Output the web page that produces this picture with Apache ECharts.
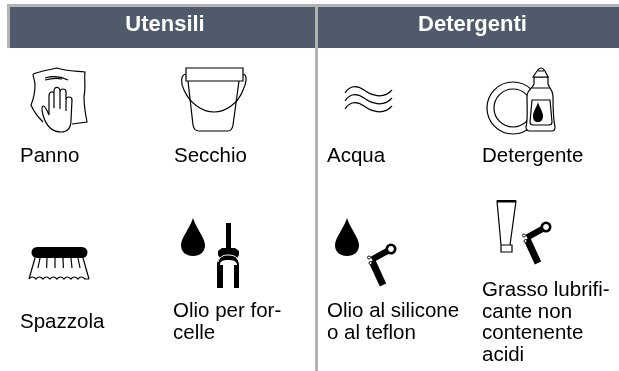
<!DOCTYPE html>
<html><head><meta charset="utf-8">
<style>html,body{margin:0;padding:0;background:#fff}#c{width:619px;height:371px}</style>
<script src="https://cdn.jsdelivr.net/npm/echarts@6/dist/echarts.min.js"></script>
</head><body><div id="c"></div>
<script>
const headers = ['Utensili', 'Detergenti'];
const itemLabels = [
  'Panno', 'Secchio', 'Acqua', 'Detergente',
  'Spazzola', 'Olio per for-\ncelle', 'Olio al silicone\no al teflon', 'Grasso lubrifi-\ncante non\ncontenente\nacidi'
];
const labelPos = [[20,146],[174,146],[327,146],[482,146],[20,312],[173,301],[327,301],[482,280]];
const headerCenters = [165, 472.5];

const GRAY='#b3b3b3', SLATE='#4f5b6b', INK='#000';
const LW = 1.2;
const icons = {
  cloth:'M33,74 C41,71 49,70 57,68 C65,71 75,71 85,72 C84,80 86,88 84,96 C84,105 85,112 87,122 L72,124 M43,122 C38,117 33,110 31,105 C34,98 35,92 35,85 C35,80 33,77 33,74 M45,78 C52,76 60,76 68,80 M45,80 C52,78 58,78 62,79',
  hand:'M49,115 C47,110 45,106 43,106 C41,107 42,111 43,115 C45,122 50,132 61,132 C68,132 71,127 71,120 L72,100 C72,96 66,96 66,100 L66,111 M66,100 L66,92 C66,88 60,88 60,92 L60,109 M60,92 C60,86 54,86 54,91 L54,108 M54,94 C54,91 49,91 49,96 L49,115',
  bucketRim:'M186,68 L243,68 L243,81 L186,81 Z',
  bucketBody:'M188,81 L193,125 Q194,131 199,131 L228,131 Q232,131 233,125 L239,81',
  bucketHandle:'M186,74 C180,75 181,84 184,90 C190,104 203,112 214,112 C225,112 238,104 243,90 C246,84 248,75 243,74',
  waves:'M345,93 C351,84 358,86 364,90 C371,95 383,100 392,90 M345,101 C351,92 358,94 364,98 C371,103 383,108 392,98 M345,109 C351,100 358,102 364,106 C371,111 383,116 392,106',
  bottle:'M534,84 C533,88 527,90 527,96 C527,110 528,120 526,127 Q526,131 530,131 L552,131 Q555,131 555,127 C553,118 553,105 553,96 C553,90 549,88 548,84 L548,77 L534,77 Z',
  bottleInner:'M532,100 L550,100 L552,122 Q552,125 549,125 L533,125 Q530,125 530,122 Z M532,88 L550,88',
  cap:'M533,77 L537,71 Q541,65 545,71 L548,77 Z M538,71 L544,71',
  drop:'M193,218 C190,228 181,238 181,245 C181,252 186,256 193,256 C200,256 205,252 205,245 C205,238 196,228 193,218 Z',
  drop2:'M347,218 C344,228 335,238 335,245 C335,252 340,256 347,256 C354,256 359,252 359,245 C359,238 350,228 347,218 Z',
  dropSmall:'M538,102 C537,107 533,111 533,116 C533,120 535,122 538,122 C541,122 543,120 543,116 C543,111 539,107 538,102 Z',
  brushBar:'M37,247 L82,247 A5.5,5.5 0 0 1 82,258 L37,258 A5.5,5.5 0 0 1 37,247 Z',
  brushBristles:'M35,258 L29,279 M83,258 L89,279 M29,279 Q32,275 36,279 Q39,275 43,279 Q46,275 50,279 Q53,275 57,279 Q60,275 64,279 Q67,275 71,279 Q74,275 78,279 Q81,275 85,279 L89,279 M40,258 L38,268 M47,258 L46.6,268 M55,258 L55,268 M63,258 L63.4,268 M71,258 L72,268 M78,258 L80,268',
  fork:'M226,223 L231,223 L231,248 L235,248 L239,251 L239,255 L237,258 L220,258 L218,255 L218,251 L222,248 L226,248 Z M217,265 L223,265 L223,288 L217,288 Z M234,265 L239,265 L239,288 L234,288 Z M217,265 C217,259 221,256 228,256 C235,256 239,259 239,265 L237,265 C237,261 233,260 228,260 C223,260 220,261 220,265 Z',
  forkArch:'M218,262 C219,257 223,255 228,255 C234,255 238,257 239,262',
  tube:'M497,201 L516,201 L510,245 L501,245 Z M501,245 L512,245 L512,252 L501,252 Z',
  tubeTop:'M497,200 L516,200 L516,202.5 L497,202.5 Z'
};
Object.keys(icons).forEach(k => echarts.graphic.registerShape('ic_'+k, echarts.graphic.extendPath(icons[k])));

const line = (k, extra) => ({type:'ic_'+k, style:Object.assign({fill:'none',stroke:INK,lineWidth:LW},extra||{})});
const solid = (k) => ({type:'ic_'+k, style:{fill:INK,stroke:'none'}});
const whiteFill = (k, lw) => ({type:'ic_'+k, style:{fill:'#fff',stroke:INK,lineWidth:lw||LW}});

function crank(x, y) {
  return {type:'group', x, y, children:[
    {type:'line', shape:{x1:0,y1:0,x2:-19,y2:10.5}, style:{stroke:INK,lineWidth:6}},
    {type:'line', shape:{x1:-19,y1:12,x2:-8,y2:36}, style:{stroke:INK,lineWidth:7}},
    {type:'circle', shape:{cx:0,cy:0,r:4.2}, style:{fill:'#fff',stroke:INK,lineWidth:2.6}},
    {type:'circle', shape:{cx:-22,cy:8.5,r:1.5}, style:{fill:'#fff',stroke:INK,lineWidth:.9}},
    {type:'circle', shape:{cx:-20.5,cy:14,r:1.5}, style:{fill:'#fff',stroke:INK,lineWidth:.9}}
  ]};
}

const elements = [
  {type:'rect', shape:{x:7,y:4,width:612,height:44}, style:{fill:SLATE}},
  {type:'rect', shape:{x:7,y:4,width:612,height:3}, style:{fill:GRAY}},
  {type:'rect', shape:{x:7,y:4,width:3,height:44}, style:{fill:GRAY}},
  {type:'rect', shape:{x:315,y:4,width:3,height:367}, style:{fill:GRAY}}
];
headers.forEach((h,i)=>elements.push({type:'text', x:headerCenters[i], y:14, style:{
  text:h, fill:'#fff', font:'bold 22px "Liberation Sans"', textAlign:'center', textVerticalAlign:'top'}}));
itemLabels.forEach((t,i)=>elements.push({type:'text', x:labelPos[i][0], y:labelPos[i][1], style:{
  text:t, fill:'#000', font:'20.5px "Liberation Sans"', lineHeight:21.5, textAlign:'left', textVerticalAlign:'top'}}));

elements.push(
  line('cloth'), whiteFill('hand'),
  line('bucketBody'), line('bucketHandle'), whiteFill('bucketRim'),
  line('waves'),
  {type:'circle', shape:{cx:513,cy:108,r:26}, style:{fill:'#fff',stroke:INK,lineWidth:LW}},
  {type:'circle', shape:{cx:513,cy:108,r:19}, style:{fill:'#fff',stroke:INK,lineWidth:LW}},
  whiteFill('bottle'), line('bottleInner'), whiteFill('cap'), solid('dropSmall'),
  solid('brushBar'), line('brushBristles'),
  solid('drop'), solid('fork'), {type:'ic_forkArch', style:{fill:'none',stroke:'#fff',lineWidth:1}},
  solid('drop2'), crank(391,249),
  whiteFill('tube'), solid('tubeTop'), crank(546,227)
);

const chart = echarts.init(document.getElementById('c'), null, {renderer:'canvas'});
chart.setOption({animation:false, backgroundColor:'#fff', graphic:{elements}});
</script></body></html>
